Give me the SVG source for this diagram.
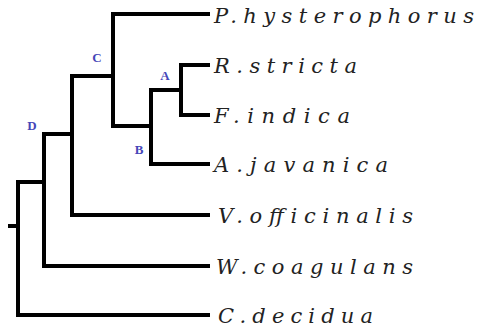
<svg xmlns="http://www.w3.org/2000/svg" width="479" height="328" viewBox="0 0 479 328">
<style>
.br{fill:none;stroke:#000;stroke-width:4;stroke-linejoin:miter;stroke-linecap:butt}
.tx{font-family:"DejaVu Serif","Liberation Serif",serif;font-style:italic;font-size:21px;fill:#222}
.nl{font-family:"Liberation Serif","DejaVu Serif",serif;font-weight:bold;font-size:13px;fill:#4646b8;text-anchor:middle}
</style>
<rect width="479" height="328" fill="#fff"/>
<g id="connectors">
<path class="br" d="M210,14 H113 V126 H151"/>
<path class="br" d="M210,65 H181 V115 H210"/>
<path class="br" d="M181,90 H151 V164 H210"/>
<path class="br" d="M113,76 H72 V215 H210"/>
<path class="br" d="M72,134 H44 V266 H210"/>
<path class="br" d="M44,182 H18 V315 H210"/>
<path class="br" d="M8,226 H18"/>
</g>
<g id="node-P"><text class="tx" x="214" y="23" textLength="260" lengthAdjust="spacing">P.hysterophorus</text></g>
<g id="node-R"><text class="tx" x="214" y="73" textLength="143" lengthAdjust="spacing">R.stricta</text></g>
<g id="node-F"><text class="tx" x="214" y="123" textLength="136" lengthAdjust="spacing">F.indica</text></g>
<g id="node-Aj"><text class="tx" x="214" y="172" textLength="174" lengthAdjust="spacing">A.javanica</text></g>
<g id="node-V"><text class="tx" x="218" y="223" textLength="195" lengthAdjust="spacing">V.officinalis</text></g>
<g id="node-W"><text class="tx" x="216" y="274" textLength="197" lengthAdjust="spacing">W.coagulans</text></g>
<g id="node-C"><text class="tx" x="218" y="323" textLength="155" lengthAdjust="spacing">C.decidua</text></g>
<g id="label-A"><text class="nl" x="165" y="80">A</text></g>
<g id="label-B"><text class="nl" x="139" y="154">B</text></g>
<g id="label-C"><text class="nl" x="97" y="62">C</text></g>
<g id="label-D"><text class="nl" x="32" y="130">D</text></g>
</svg>
